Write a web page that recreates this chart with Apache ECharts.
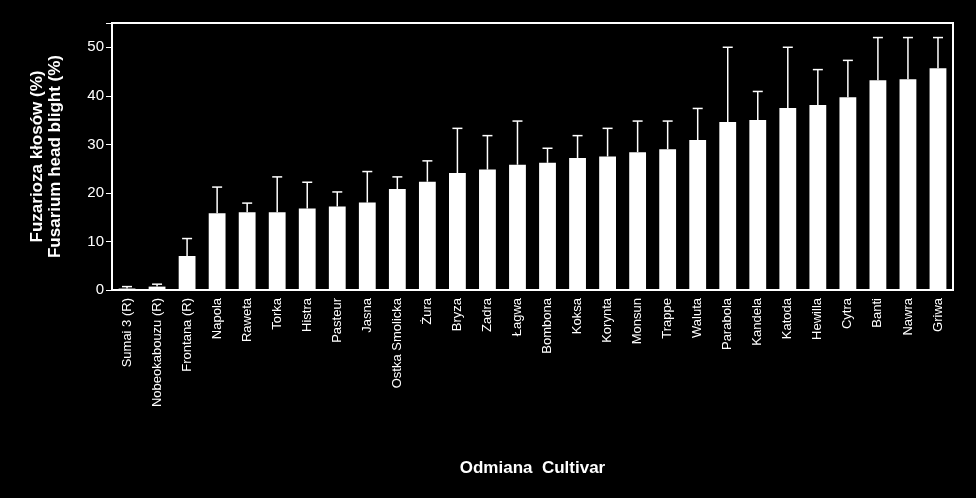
<!DOCTYPE html><html><head><meta charset="utf-8"><script src="https://cdn.jsdelivr.net/npm/echarts@6/dist/echarts.min.js"></script></head><body style="margin:0;background:#000"><div id="c" style="width:976px;height:498px"></div><script>
const categories=["Sumai 3 (R)","Nobeokabouzu (R)","Frontana (R)","Napola","Raweta","Torka","Histra","Pasteur","Jasna","Ostka Smolicka","Żura","Bryza","Zadra","Łagwa","Bombona","Koksa","Korynta","Monsun","Trappe","Waluta","Parabola","Kandela","Katoda","Hewilla","Cytra","Banti","Nawra","Griwa"];
const values=[0.3,0.7,7,15.8,16,16,16.8,17.2,18,20.8,22.3,24.1,24.8,25.8,26.2,27.2,27.5,28.4,29.0,30.9,34.6,35,37.5,38.1,39.7,43.2,43.4,45.7];
const errTop=[0.7,1.2,10.6,21.2,17.9,23.3,22.2,20.2,24.4,23.3,26.6,33.3,31.8,34.8,29.2,31.8,33.3,34.8,34.8,37.4,50,40.9,50,45.4,47.3,52,52,52];
const yTicks=[0,10,20,30,40,50];
const ch=echarts.init(document.getElementById('c'));
ch.setOption({backgroundColor:'#000',animation:false,
grid:{left:112,right:23,top:23,bottom:208,show:true,borderColor:'#fff',borderWidth:2},
xAxis:{type:'category',data:categories,axisLine:{lineStyle:{color:'#fff',width:2}},axisTick:{lineStyle:{color:'#fff'},length:5},
axisLabel:{rotate:90,color:'#fff',fontFamily:'Liberation Sans',fontSize:13,interval:0},
name:'Odmiana  Cultivar',nameLocation:'middle',nameGap:170,nameTextStyle:{color:'#fff',fontWeight:'bold',fontSize:17,fontFamily:'Liberation Sans'}},
yAxis:{type:'value',min:0,max:55,interval:10,splitLine:{show:false},axisLine:{show:true,lineStyle:{color:'#fff',width:2}},axisTick:{show:true,lineStyle:{color:'#fff'},length:6},
axisLabel:{color:'#fff',fontSize:15,fontFamily:'Liberation Sans',formatter:v=>yTicks.includes(v)?v:''},
name:'Fuzarioza kłosów (%)\nFusarium head blight (%)',nameLocation:'middle',nameGap:48,nameTextStyle:{color:'#fff',fontWeight:'bold',fontSize:17,lineHeight:18,fontFamily:'Liberation Sans'}},
series:[{type:'bar',data:values,barWidth:'56%',itemStyle:{color:'#fff'}},
{type:'custom',data:values.map((v,i)=>[i,v,errTop[i]]),renderItem:(p,api)=>{const a=api.coord([api.value(0),api.value(1)]),b=api.coord([api.value(0),api.value(2)]);
return{type:'group',children:[{type:'line',shape:{x1:a[0],y1:a[1],x2:b[0],y2:b[1]},style:{stroke:'#fff',lineWidth:1.5}},{type:'line',shape:{x1:b[0]-5,y1:b[1],x2:b[0]+5,y2:b[1]},style:{stroke:'#fff',lineWidth:1.5}}]}},z:5}]});
</script></body></html>
